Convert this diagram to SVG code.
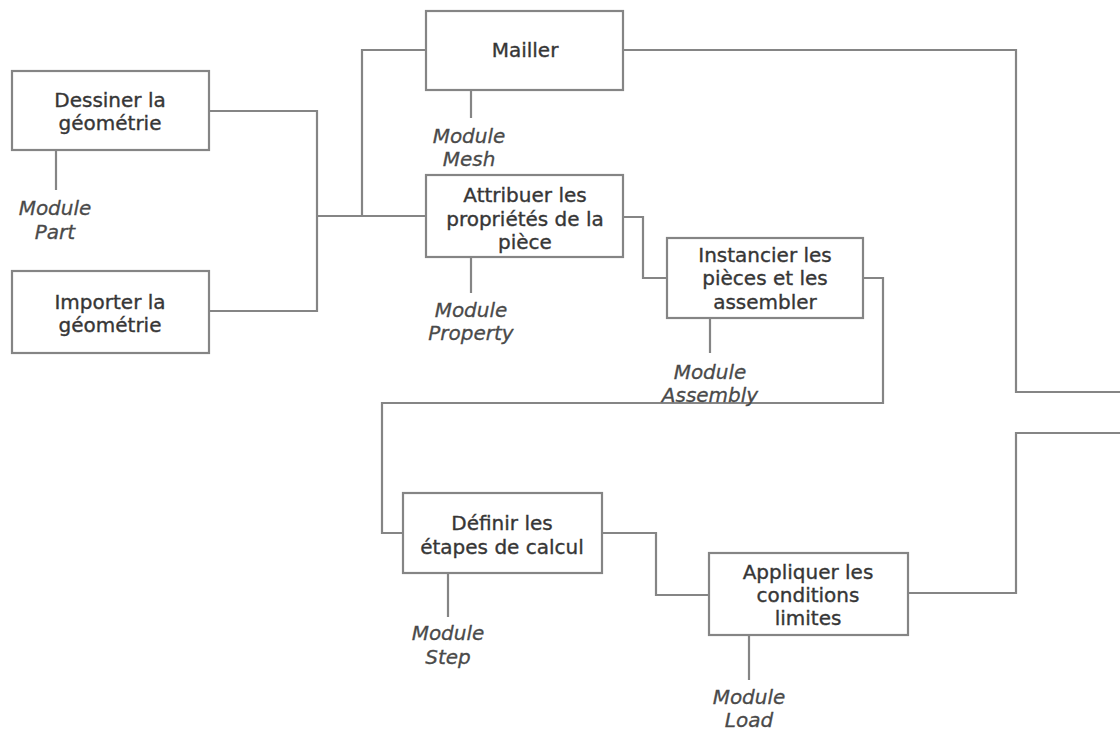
<svg xmlns="http://www.w3.org/2000/svg" width="1120" height="731" viewBox="0 0 1120 731">
<style>
.box{fill:#fff;stroke:#858585;stroke-width:2.2}
.ln{fill:none;stroke:#858585;stroke-width:2.2}
.t{font-family:"DejaVu Sans",sans-serif;font-size:20px;fill:#363636;stroke:#363636;stroke-width:0.35;text-anchor:middle}
.m{font-family:"DejaVu Sans",sans-serif;font-size:20px;font-style:italic;fill:#4a4a4a;stroke:#4a4a4a;stroke-width:0.3;text-anchor:middle}
</style>
<rect width="1120" height="731" fill="#fff"/>
<g id="connectors">
<polyline class="ln" points="209,111 317,111 317,311 209,311"/>
<polyline class="ln" points="317,216 426,216"/>
<polyline class="ln" points="362,216 362,50 426,50"/>
<polyline class="ln" points="623,50 1016,50 1016,392 1120,392"/>
<polyline class="ln" points="623,217 643,217 643,278 667,278"/>
<polyline class="ln" points="863,278 883,278 883,403 382,403 382,533 403,533"/>
<polyline class="ln" points="602,533 656,533 656,595 709,595"/>
<polyline class="ln" points="908,593 1016,593 1016,433 1120,433"/>
<line class="ln" x1="56" y1="150" x2="56" y2="190"/>
<line class="ln" x1="471" y1="90" x2="471" y2="118"/>
<line class="ln" x1="471" y1="257" x2="471" y2="293"/>
<line class="ln" x1="710" y1="318" x2="710" y2="353"/>
<line class="ln" x1="448" y1="573" x2="448" y2="617"/>
<line class="ln" x1="749" y1="635" x2="749" y2="680"/>
</g>
<g id="dessiner">
<rect class="box" x="12" y="71" width="197" height="79"/>
<text class="t" x="110" y="107">Dessiner la</text>
<text class="t" x="110" y="130">géométrie</text>
<text class="m" x="55" y="215">Module</text>
<text class="m" x="55" y="239">Part</text>
</g>
<g id="importer">
<rect class="box" x="12" y="271" width="197" height="82"/>
<text class="t" x="110" y="309">Importer la</text>
<text class="t" x="110" y="332">géométrie</text>
</g>
<g id="mailler">
<rect class="box" x="426" y="11" width="197" height="79"/>
<text class="t" x="525" y="57">Mailler</text>
<text class="m" x="469" y="143">Module</text>
<text class="m" x="469" y="166">Mesh</text>
</g>
<g id="attribuer">
<rect class="box" x="426" y="175" width="197" height="82"/>
<text class="t" x="525" y="202">Attribuer les</text>
<text class="t" x="525" y="226">propriétés de la</text>
<text class="t" x="525" y="249">pièce</text>
<text class="m" x="471" y="317">Module</text>
<text class="m" x="471" y="340">Property</text>
</g>
<g id="instancier">
<rect class="box" x="667" y="238" width="196" height="80"/>
<text class="t" x="765" y="262">Instancier les</text>
<text class="t" x="765" y="285">pièces et les</text>
<text class="t" x="765" y="309">assembler</text>
<text class="m" x="710" y="379">Module</text>
<text class="m" x="710" y="402">Assembly</text>
</g>
<g id="definir">
<rect class="box" x="403" y="493" width="199" height="80"/>
<text class="t" x="502" y="530">Définir les</text>
<text class="t" x="502" y="554">étapes de calcul</text>
<text class="m" x="448" y="640">Module</text>
<text class="m" x="448" y="664">Step</text>
</g>
<g id="appliquer">
<rect class="box" x="709" y="553" width="199" height="82"/>
<text class="t" x="808" y="579">Appliquer les</text>
<text class="t" x="808" y="602">conditions</text>
<text class="t" x="808" y="625">limites</text>
<text class="m" x="749" y="704">Module</text>
<text class="m" x="749" y="727">Load</text>
</g>
</svg>
